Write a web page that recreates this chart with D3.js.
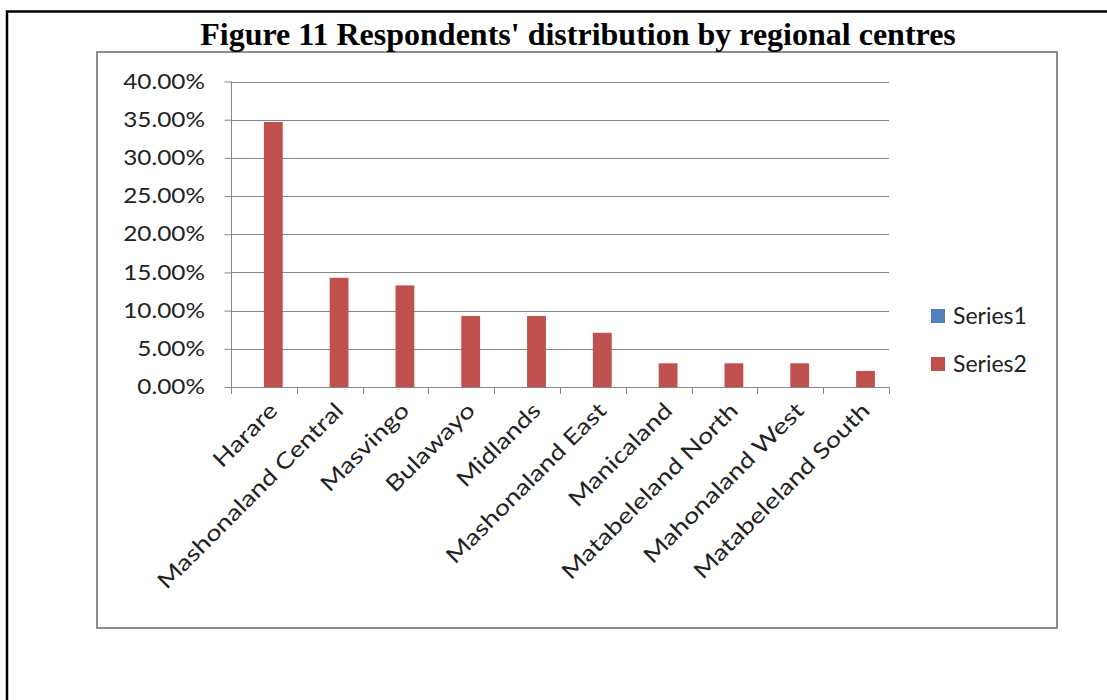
<!DOCTYPE html>
<html lang="en">

<head>
    <meta charset="UTF-8">
    <title>Figure 11</title>
    <style>
        body { margin: 0; background: #fff; }
    </style>
</head>

<body>
    <script src="https://cdn.jsdelivr.net/npm/d3@7"></script>
    <script>
        const svg_w = 1107;
        const svg_h = 700;

        const regions = ['Harare', 'Mashonaland Central', 'Masvingo', 'Bulawayo', 'Midlands',
            'Mashonaland East', 'Manicaland', 'Matabeleland North', 'Mahonaland West', 'Matabeleland South'];
        const series_names = ['Series1', 'Series2'];
        const series1 = [0, 0, 0, 0, 0, 0, 0, 0, 0, 0];
        const series2 = [0.347, 0.143, 0.133, 0.093, 0.093, 0.071, 0.031, 0.031, 0.031, 0.021];
        const y_ticks = [0, 0.05, 0.10, 0.15, 0.20, 0.25, 0.30, 0.35, 0.40];
        const colors = ['#4F81BD', '#C0504D'];

        const grid_col = '#868686';
        const label_font = 'Lato, "Open Sans", sans-serif';
        const y_stretch = 1.16;
        const x_stretch = 1.23;

        const svg = d3.select('body')
            .append('svg')
            .attr('width', svg_w)
            .attr('height', svg_h);

        // page frame (black) and chart frame (gray)
        svg.append('path')
            .attr('d', `M7,${svg_h} V11.5 H${svg_w}`)
            .attr('fill', 'none')
            .attr('stroke', '#000')
            .attr('stroke-width', 2.5);

        svg.append('rect')
            .attr('x', 97).attr('y', 52)
            .attr('width', 960).attr('height', 576)
            .attr('fill', '#fff')
            .attr('stroke', '#8c8c8c')
            .attr('stroke-width', 2);

        svg.append('text')
            .text("Figure 11 Respondents' distribution by regional centres")
            .attr('x', 578)
            .attr('y', 45)
            .attr('text-anchor', 'middle')
            .attr('font-family', '"Liberation Serif", "Times New Roman", serif')
            .attr('font-weight', 'bold')
            .attr('font-size', '32px');

        const x = d3.scaleBand().domain(regions).range([231, 889]);
        const x_inner = d3.scaleBand().domain(series_names).range([0, x.bandwidth()]).paddingOuter(0.75);
        const y = d3.scaleLinear().domain([0, 0.4]).range([387, 81.5]);

        // gridlines
        svg.append('g')
            .selectAll('line')
            .data(y_ticks.slice(1))
            .enter()
            .append('line')
            .attr('x1', 231).attr('x2', 889)
            .attr('y1', d => Math.round(y(d)) + 0.5)
            .attr('y2', d => Math.round(y(d)) + 0.5)
            .attr('stroke', grid_col);

        // bars
        const table = regions.map((r, i) => ({ region: r, values: [series1[i], series2[i]] }));
        svg.append('g')
            .selectAll('g')
            .data(table)
            .enter()
            .append('g')
            .attr('transform', d => `translate(${x(d.region)},0)`)
            .selectAll('rect')
            .data(d => d.values.map((v, k) => ({ name: series_names[k], value: v, k: k })))
            .enter()
            .append('rect')
            .attr('x', d => x_inner(d.name))
            .attr('width', x_inner.bandwidth())
            .attr('y', d => y(d.value))
            .attr('height', d => y(0) - y(d.value))
            .attr('fill', d => colors[d.k]);

        // y axis
        const y_axis = svg.append('g')
            .attr('transform', 'translate(231.5,0)')
            .call(d3.axisLeft(y).tickValues(y_ticks).tickFormat(d3.format('.2%')).tickSize(7));
        y_axis.select('.domain').attr('stroke', grid_col).attr('d', `M0,${y(0.4)}V${y(0)}`);
        y_axis.selectAll('.tick line').attr('stroke', grid_col);
        // right edge of labels sits at x = 205, glyphs stretched a little
        y_axis.selectAll('.tick text')
            .attr('x', -26.5 / y_stretch)
            .attr('transform', `scale(${y_stretch},1)`)
            .attr('font-family', label_font)
            .attr('font-size', '21px')
            .attr('fill', '#222');

        // x axis line and ticks at band edges
        const x_edges = regions.map(r => x(r)).concat([x.range()[1]]);
        svg.append('line')
            .attr('x1', 231).attr('x2', 889)
            .attr('y1', Math.round(y(0)) + 0.5).attr('y2', Math.round(y(0)) + 0.5)
            .attr('stroke', grid_col);
        svg.append('g')
            .selectAll('line')
            .data(x_edges)
            .enter()
            .append('line')
            .attr('x1', d => Math.round(d) + 0.5).attr('x2', d => Math.round(d) + 0.5)
            .attr('y1', y(0)).attr('y2', y(0) + 7)
            .attr('stroke', grid_col);

        // rotated category labels
        svg.append('g')
            .selectAll('text')
            .data(regions)
            .enter()
            .append('text')
            .text(d => d)
            .attr('transform', d => `translate(${x(d) + x.bandwidth() / 2 + 15},412) rotate(-45) scale(${x_stretch},1)`)
            .attr('text-anchor', 'end')
            .attr('font-family', label_font)
            .attr('font-size', '22px')
            .attr('fill', '#222');

        // legend
        const legend = svg.append('g')
            .selectAll('g')
            .data(series_names)
            .enter()
            .append('g')
            .attr('transform', (d, i) => `translate(931,${309 + i * 48})`);
        legend.append('rect')
            .attr('width', 14).attr('height', 14)
            .attr('fill', (d, i) => colors[i]);
        legend.append('text')
            .text(d => d)
            .attr('x', 22)
            .attr('y', 14.5)
            .attr('font-family', label_font)
            .attr('font-size', '23px')
            .attr('fill', '#222');
    </script>
</body>

</html>
